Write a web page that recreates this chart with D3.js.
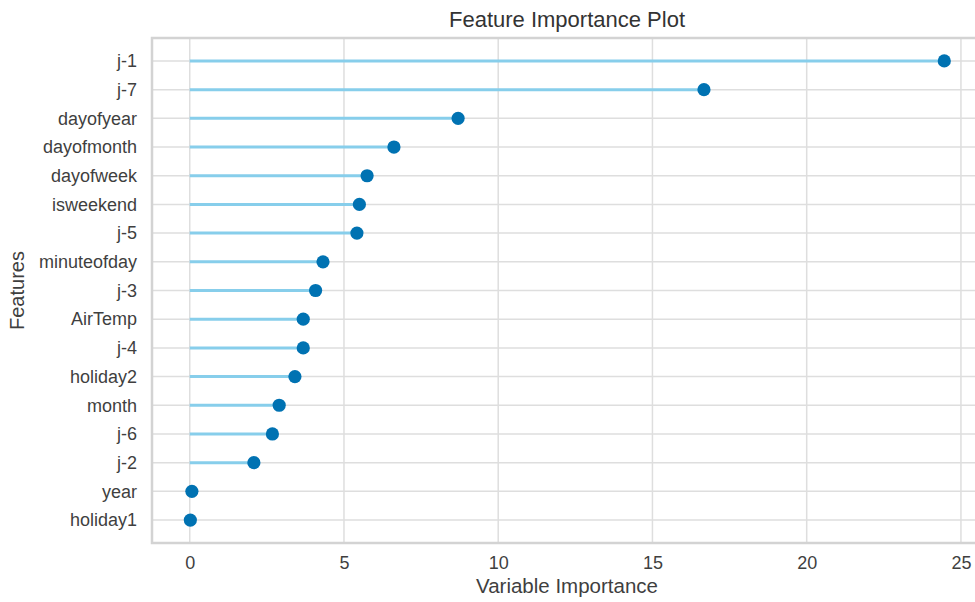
<!DOCTYPE html>
<html>
<head>
<meta charset="utf-8">
<script src="https://cdn.jsdelivr.net/npm/d3@7"></script>
<style>
  html, body { margin: 0; padding: 0; background: #fff; }
  svg { display: block; font-family: "Liberation Sans", Arial, sans-serif; }
</style>
</head>
<body>
<svg id="chart" width="975" height="602"></svg>
<script>
// Features, ordered from most to least important
const features = [
  "j-1", "j-7", "dayofyear", "dayofmonth", "dayofweek", "isweekend", "j-5",
  "minuteofday", "j-3", "AirTemp", "j-4", "holiday2", "month", "j-6", "j-2",
  "year", "holiday1"
];
const importance = [
  24.46, 16.67, 8.70, 6.62, 5.75, 5.50, 5.42,
  4.32, 4.08, 3.68, 3.68, 3.41, 2.90, 2.68, 2.08,
  0.07, 0.02
];
const xTicks = [0, 5, 10, 15, 20, 25];

const titleText = "Feature Importance Plot";
const xLabel = "Variable Importance";
const yLabel = "Features";

const rows = features.map((f, i) => ({ feature: f, value: importance[i] }));

const svg = d3.select("#chart");
const plot = { left: 152, top: 38, right: 982, bottom: 543 };

// 5% margin on each side of the data range, stems start at zero
const xMax = d3.max(importance);
const pad = 0.05 * xMax;
const x = d3.scaleLinear()
  .domain([0 - pad, xMax + pad])
  .range([plot.left, plot.right]);

const y = d3.scalePoint()
  .domain(features)
  .range([plot.top, plot.bottom])
  .padding(0.8);

const gridColor = "#dedede";
const spineColor = "#d3d3d3";
const textColor = "#3f3f3f";

// Grid
const grid = svg.append("g");
grid.selectAll("line.vx")
  .data(xTicks)
  .join("line")
  .attr("x1", d => x(d)).attr("x2", d => x(d))
  .attr("y1", plot.top).attr("y2", plot.bottom)
  .attr("stroke", gridColor).attr("stroke-width", 1.5);
grid.selectAll("line.hy")
  .data(features)
  .join("line")
  .attr("x1", plot.left).attr("x2", plot.right)
  .attr("y1", d => y(d)).attr("y2", d => y(d))
  .attr("stroke", gridColor).attr("stroke-width", 1.5);

// Frame
svg.append("rect")
  .attr("x", plot.left).attr("y", plot.top)
  .attr("width", plot.right - plot.left)
  .attr("height", plot.bottom - plot.top)
  .attr("fill", "none")
  .attr("stroke", spineColor)
  .attr("stroke-width", 2.5);

// Stems
svg.append("g").selectAll("line")
  .data(rows)
  .join("line")
  .attr("x1", x(0))
  .attr("x2", d => x(d.value))
  .attr("y1", d => y(d.feature))
  .attr("y2", d => y(d.feature))
  .attr("stroke", "#87ceeb")
  .attr("stroke-width", 3);

// Heads
svg.append("g").selectAll("circle")
  .data(rows)
  .join("circle")
  .attr("cx", d => x(d.value))
  .attr("cy", d => y(d.feature))
  .attr("r", 6.6)
  .attr("fill", "#0072b2");

// X axis
const xAxis = d3.axisBottom(x).tickValues(xTicks).tickSize(0).tickPadding(0);
const gx = svg.append("g")
  .attr("transform", `translate(0,${plot.bottom})`)
  .call(xAxis);
gx.select(".domain").remove();
gx.selectAll("text")
  .attr("dy", null)
  .attr("y", 26)
  .attr("fill", textColor)
  .style("font-size", "18px")
  .style("font-family", "'Liberation Sans', Arial, sans-serif");

// Y axis
const yAxis = d3.axisLeft(y).tickSize(0).tickPadding(15);
const gy = svg.append("g")
  .attr("transform", `translate(${plot.left},0)`)
  .call(yAxis);
gy.select(".domain").remove();
gy.selectAll("text")
  .attr("fill", textColor)
  .style("font-size", "18px")
  .style("font-family", "'Liberation Sans', Arial, sans-serif");

// Titles
svg.append("text")
  .attr("x", (plot.left + plot.right) / 2)
  .attr("y", 27)
  .attr("text-anchor", "middle")
  .attr("fill", "#333")
  .style("font-size", "22px")
  .text(titleText);

svg.append("text")
  .attr("x", (plot.left + plot.right) / 2)
  .attr("y", 593)
  .attr("text-anchor", "middle")
  .attr("fill", textColor)
  .style("font-size", "20.5px")
  .text(xLabel);

svg.append("text")
  .attr("transform", `translate(24,${(plot.top + plot.bottom) / 2}) rotate(-90)`)
  .attr("text-anchor", "middle")
  .attr("fill", textColor)
  .style("font-size", "20px")
  .text(yLabel);
</script>
</body>
</html>
